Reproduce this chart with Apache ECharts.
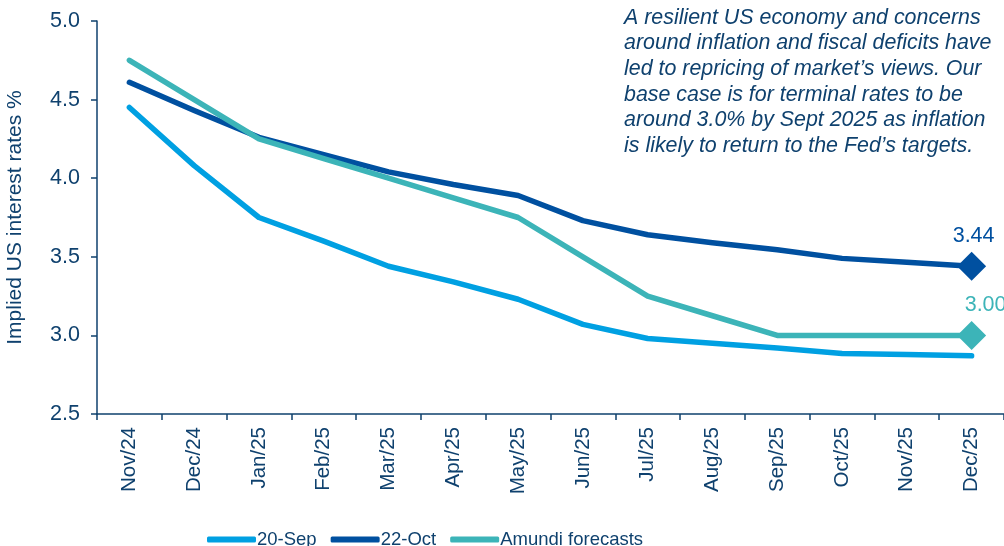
<!DOCTYPE html>
<html><head><meta charset="utf-8">
<script src="https://cdn.jsdelivr.net/npm/echarts@6/dist/echarts.min.js"></script>
<style>html,body{margin:0;padding:0;background:#fff}#c{width:1004px;height:546px}</style>
</head><body><div id="c"></div>
<script>
const categories = ['Nov/24','Dec/24','Jan/25','Feb/25','Mar/25','Apr/25','May/25','Jun/25','Jul/25','Aug/25','Sep/25','Oct/25','Nov/25','Dec/25'];
const sep20 = [4.45,4.08,3.75,3.60,3.44,3.34,3.23,3.07,2.98,2.95,2.92,2.885,2.878,2.87];
const oct22 = [4.61,4.43,4.26,4.15,4.04,3.96,3.89,3.73,3.64,3.59,3.545,3.49,3.465,3.44];
const amundi = [4.75,4.50,4.25,4.125,4.00,3.875,3.75,3.50,3.25,3.125,3.00,3.00,3.00,3.00];
const yTicks = [2.5,3.0,3.5,4.0,4.5,5.0];
const names = ['20-Sep','22-Oct','Amundi forecasts'];
const endLabels = ['3.44','3.00'];
const note = ['A resilient US economy and concerns','around inflation and fiscal deficits have','led to repricing of market\u2019s views. Our','base case is for terminal rates to be','around 3.0% by Sept 2025 as inflation','is likely to return to the Fed\u2019s targets.'];

const navy = '#0F416E';
const font = 'Liberation Sans, Arial, sans-serif';
const chart = echarts.init(document.getElementById('c'));
function endMarker(data, color, labelText, offsetX) {
  return {
    symbol: 'diamond', symbolSize: 29,
    data: [{ coord: [categories.length - 1, data[data.length - 1]], value: labelText }],
    itemStyle: { color: color },
    label: { show: true, position: 'top', distance: 5, offset: [offsetX, 0], formatter: labelText, color: color, fontSize: 21.5, fontFamily: font }
  };
}
function line(name, data, color, labelText, offsetX) {
  const s = {
    name: name, type: 'line', data: data, showSymbol: false, symbol: 'none',
    lineStyle: { width: 5.5, color: color, cap: 'round', join: 'round' },
    itemStyle: { color: color }, animation: false
  };
  if (labelText) s.markPoint = endMarker(data, color, labelText, offsetX);
  return s;
}
chart.setOption({
  animation: false,
  grid: { left: 97, right: 0, top: 21, bottom: 132, containLabel: false, outerBoundsMode: 'none' },
  legend: {
    bottom: -8, left: 202, itemWidth: 49, itemHeight: 6, itemGap: 14,
    icon: 'roundRect',
    textStyle: { color: navy, fontSize: 18.5, fontFamily: font, padding: [0,0,0,-4] },
    data: names
  },
  graphic: [{
    type: 'text', left: 624, top: 5,
    style: { text: note.join('\n'), font: 'italic 21.4px ' + font, fill: navy, lineHeight: 25.6 }
  }],
  xAxis: {
    type: 'category', data: categories, boundaryGap: true,
    axisLine: { lineStyle: { color: navy, width: 1.5 } },
    axisTick: { show: true, length: 6, lineStyle: { color: navy, width: 1.5 } },
    axisLabel: { rotate: 90, color: navy, fontSize: 20.5, fontFamily: font, margin: 13 }
  },
  yAxis: {
    type: 'value', min: yTicks[0], max: yTicks[yTicks.length - 1], interval: 0.5,
    name: 'Implied US interest rates %', nameLocation: 'middle', nameGap: 71, nameRotate: 90,
    nameTextStyle: { color: navy, fontSize: 21, fontFamily: font },
    splitLine: { show: false },
    axisLine: { show: true, lineStyle: { color: navy, width: 1.5 } },
    axisTick: { show: true, length: 6, lineStyle: { color: navy, width: 1.5 } },
    axisLabel: { color: navy, fontSize: 21.5, fontFamily: font, margin: 17, formatter: v => v.toFixed(1) }
  },
  series: [
    line(names[0], sep20, '#00A0E2'),
    line(names[1], oct22, '#0050A0', endLabels[0], 2),
    line(names[2], amundi, '#3CB4B8', endLabels[1], 14)
  ]
});
</script></body></html>
